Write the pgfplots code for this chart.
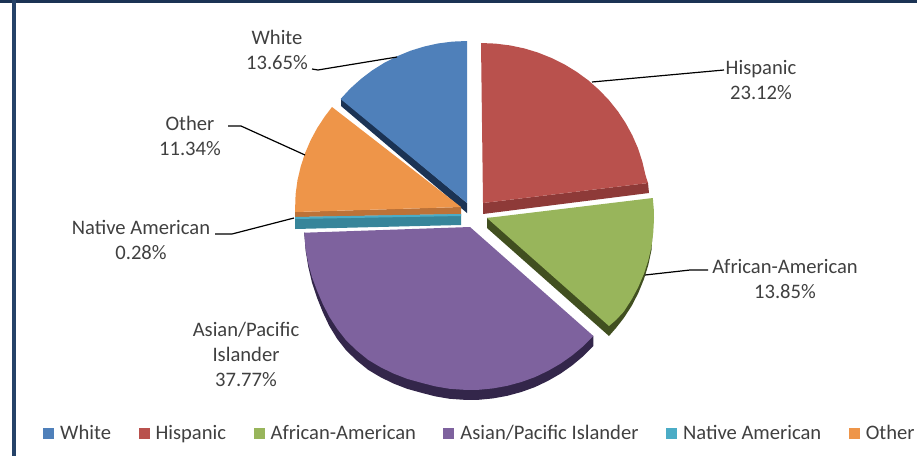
\documentclass[border=0pt]{standalone}
\usepackage{fontspec}
\setmainfont{Carlito}
\usepackage{pgfplots}
\pgfplotsset{compat=1.18}

\definecolor{cwhite}{HTML}{4F80BA}
\definecolor{chisp}{HTML}{B9514D}
\definecolor{cafr}{HTML}{98B55B}
\definecolor{casian}{HTML}{7E629E}
\definecolor{cnat}{HTML}{4BACC6}
\definecolor{coth}{HTML}{EE9549}
\definecolor{dwhite}{HTML}{1B3354}
\definecolor{dhisp}{HTML}{8E3A38}
\definecolor{dafr}{HTML}{414F20}
\definecolor{dasian}{HTML}{33264A}
\definecolor{dnat}{HTML}{37859A}
\definecolor{doth}{HTML}{BC7238}
\definecolor{txt}{HTML}{404040}

\begin{document}
\begin{tikzpicture}
\begin{axis}[
  width=917pt, height=456pt, scale only axis,
  hide axis,
  xmin=0, xmax=917, ymin=0, ymax=456,
  y dir=reverse,
  legend columns=6,
  legend cell align=left,
  legend image code/.code={\fill[#1] (0pt,-5.5pt) rectangle (11pt,5.5pt); \path (15pt,0pt);},
  legend style={
    at={(axis cs:43,433)}, anchor=west,
    draw=none, fill=none, inner sep=0pt,
    font=\fontsize{20.6}{24}\selectfont\color{txt},
    /tikz/every even column/.append style={column sep=25.5pt},
  },
]
% frame
\draw[color=dwhite, line width=3.5pt] (axis cs:0,1.5) -- (axis cs:917,1.5);
\draw[color=dwhite!80!cwhite, line width=4pt] (axis cs:13.5,0) -- (axis cs:13.5,456);

% side faces
\addplot[fill=dwhite, draw=none, forget plot] coordinates {(341,98) (341,106) (467,213) (467,203)} --cycle;
\addplot[fill=dhisp, draw=none, forget plot] coordinates {(483,203) (648,183) (649,193) (483,214)} --cycle;
\addplot[fill=dafr, draw=none, forget plot] coordinates {(487,218) (487,228) (609,336) (616,328) (623.8,318) (631.6,306) (638.3,293) (644,279) (648.3,265) (651.5,250) (653.8,212)} --cycle;
\addplot[fill=dasian, draw=none, forget plot] coordinates {(593.4,336) (593.4,346) (583.2,356.2) (572.2,365.4) (560.4,373.7) (547.9,380.9) (534.9,387.1) (521.3,392) (507.3,395.8) (493.1,398.4) (478.6,399.8) (464.2,399.8) (449.8,398.8) (435.5,396.4) (421.5,392.8) (407.4,388.9) (393.9,383.7) (380.7,377.3) (368.1,369.8) (356.7,360.5) (346.2,350.4) (337.2,338.9) (329.3,326) (322.7,312) (317.1,298) (312.1,283) (308.3,267) (305.7,251) (304.2,232.7)} --cycle;
\addplot[fill=dnat, draw=none, forget plot] coordinates {(295,217) (461,214) (461,225) (295,229)} --cycle;
\addplot[fill=doth, draw=none, forget plot] coordinates {(295,212) (461,207) (461,214) (295,217)} --cycle;

% top faces
\addplot[fill=cwhite, draw=none] coordinates {(467,203) (340.6,99) (350.3,88.5) (361,78.9) (372.3,70.3) (384.5,62.7) (397.2,56.2) (410.6,50.7) (424.3,46.5) (438.3,43.4) (452.6,41.6) (467,41)} --cycle;
\addlegendentry{White}
\addplot[fill=chisp, draw=none] coordinates {(483,203) (481,43) (495.5,43.6) (510,45.4) (524.3,48.4) (538.1,52.6) (551.6,58) (564.5,64.4) (576.9,72) (588.4,80.4) (599.1,89.9) (608.9,100.1) (617.8,111.2) (625.6,123) (632.3,135.3) (638,148.3) (642.3,161.6) (645.5,175.2) (648,183)} --cycle;
\addlegendentry{Hispanic}
\addplot[fill=cafr, draw=none] coordinates {(487,218) (652.8,198) (653.8,209.5) (654,218) (653.3,232.2) (651.5,246.4) (648.3,260.2) (644,273.7) (638.3,287) (631.6,299.5) (623.8,311.6) (616,320) (609,326)} --cycle;
\addlegendentry{African-American}
\addplot[fill=casian, draw=none] coordinates {(470,227) (593.4,336) (583.2,346.2) (572.2,355.4) (560.4,363.7) (547.9,370.9) (534.9,377.1) (521.3,382) (507.3,385.8) (493.1,388.4) (478.6,389.8) (464.2,389.8) (449.8,388.8) (435.5,386.4) (421.5,382.8) (407.4,378.9) (393.9,373.7) (380.7,367.3) (368.1,359.8) (356.7,350.5) (346.2,340.4) (337.2,328.9) (329.3,316.7) (322.7,303.8) (317.1,290.7) (312.1,277.4) (308.3,263.7) (305.7,249.7) (304.2,232.7)} --cycle;
\addlegendentry{Asian/Pacific Islander}
\addplot[fill=cnat, draw=none] coordinates {(295,217) (461,214) (461,216) (295,219)} --cycle;
\addlegendentry{Native American}
\addplot[fill=coth, draw=none] coordinates {(461,207) (332,107) (325,116.2) (317.2,128) (310.6,140.3) (305,153.3) (300.7,166.6) (297.5,180.2) (295.6,194.1) (295,212)} --cycle;
\addlegendentry{Other}

% leader lines
\addplot[black, line width=1.2pt, forget plot] coordinates {(397,57) (330,68) (318,70) (312,69)};
\addplot[black, line width=1.2pt, forget plot] coordinates {(228,126) (241,126) (305,155)};
\addplot[black, line width=1.2pt, forget plot] coordinates {(215,234) (232,234) (294,218)};
\addplot[black, line width=1.2pt, forget plot] coordinates {(724,70) (592,82)};
\addplot[black, line width=1.2pt, forget plot] coordinates {(708,270) (690,270) (645,275)};

% data labels
\tikzset{lab/.style={align=center, text=txt, inner sep=0pt, font=\fontsize{20.6}{25}\selectfont}}
\node[lab] at (axis cs:277,49.5) {White\\13.65\%};
\node[lab] at (axis cs:761,79.5) {Hispanic\\23.12\%};
\node[lab] at (axis cs:785,279) {African-American\\13.85\%};
\node[lab] at (axis cs:246,354.5) {Asian/Pacific\\Islander\\37.77\%};
\node[lab] at (axis cs:141,239.5) {Native American\\0.28\%};
\node[lab] at (axis cs:190,135.5) {Other\\11.34\%};
\end{axis}
\end{tikzpicture}
\end{document}
